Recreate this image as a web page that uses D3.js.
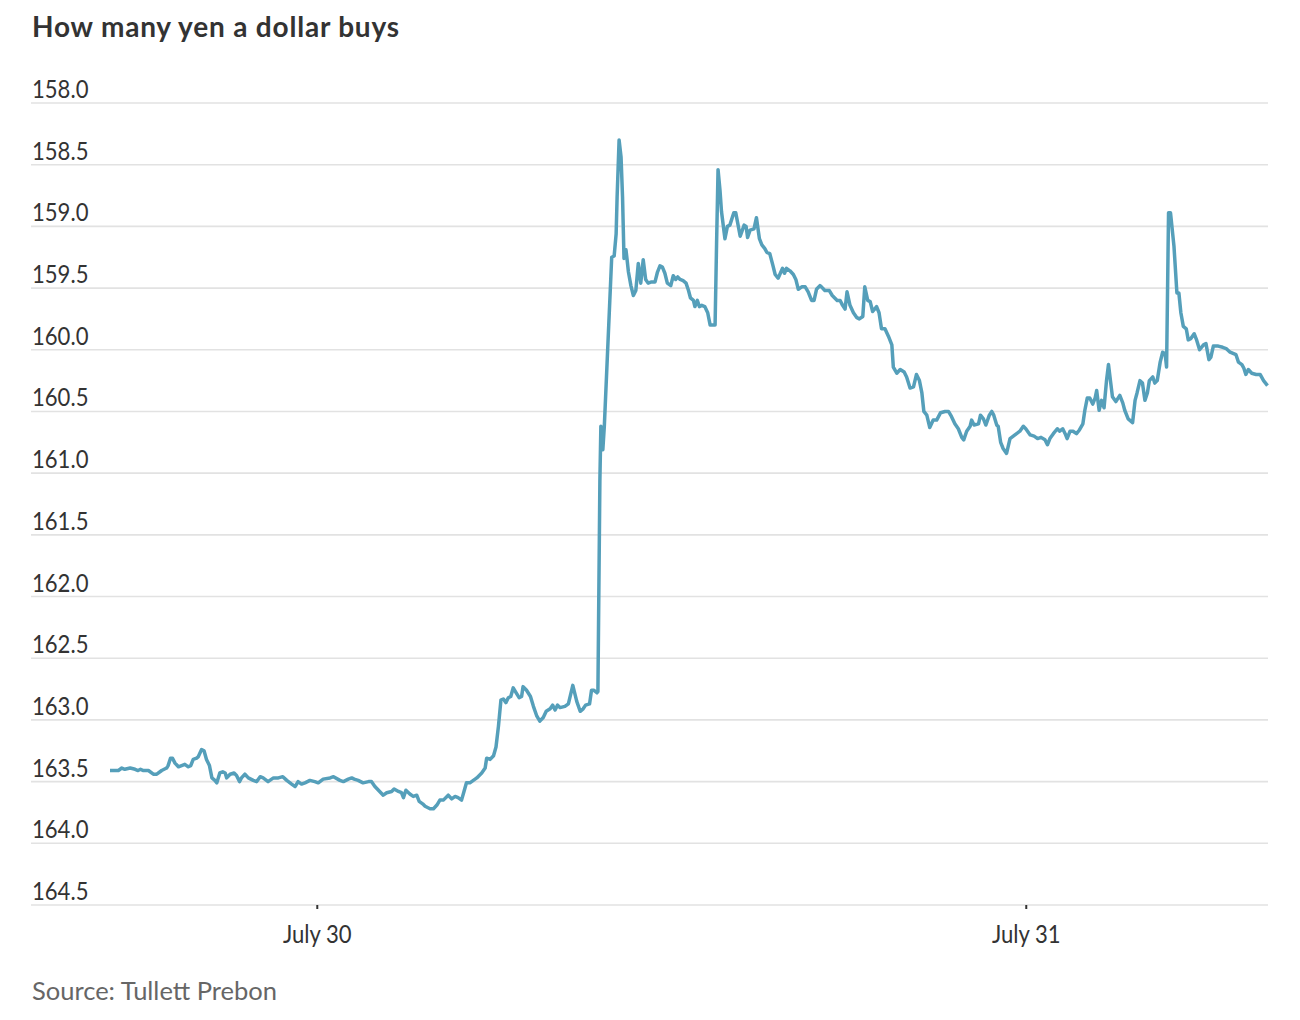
<!DOCTYPE html>
<html>
<head>
<meta charset="utf-8">
<script src="https://cdn.jsdelivr.net/npm/d3@7"></script>
<style>
  body { margin: 0; background: #fff; }
  .tick-label { font-family: Lato, sans-serif; font-size: 26px; fill: #333; }
</style>
</head>
<body>
<div id="chart"></div>
<script>
// how many yen one dollar buys, intraday, July 29-31
const times = [
  "29 17:00","29 17:17","29 17:24","29 17:30","29 17:41","29 17:51","29 17:57","29 18:02","29 18:08","29 18:18",
  "29 18:28","29 18:35","29 18:45","29 18:55","29 18:58","29 19:03","29 19:07","29 19:12","29 19:19","29 19:32",
  "29 19:39","29 19:44","29 19:49","29 19:56","29 19:59","29 20:06","29 20:11","29 20:16","29 20:22","29 20:27",
  "29 20:33","29 20:37","29 20:43","29 20:49","29 20:54","29 20:57","29 21:04","29 21:12","29 21:17","29 21:23",
  "29 21:27","29 21:34","29 21:41","29 21:51","29 21:58","29 22:05","29 22:11","29 22:21","29 22:32","29 22:42",
  "29 22:51","29 22:59","29 23:09","29 23:16","29 23:22","29 23:29","29 23:36","29 23:46","29 23:56","30 00:03",
  "30 00:13","30 00:27","30 00:34","30 00:47","30 00:54","30 01:04","30 01:11","30 01:16","30 01:24","30 01:34",
  "30 01:45","30 01:51","30 01:58","30 02:15","30 02:22","30 02:32","30 02:37","30 02:46","30 02:52","30 02:56",
  "30 03:01","30 03:09","30 03:16","30 03:23","30 03:28","30 03:35","30 03:40","30 03:50","30 03:57","30 04:04",
  "30 04:10","30 04:17","30 04:27","30 04:34","30 04:41","30 04:47","30 04:54","30 04:59","30 05:04","30 05:11",
  "30 05:18","30 05:25","30 05:35","30 05:42","30 05:45","30 05:52","30 05:59","30 06:04","30 06:09","30 06:14",
  "30 06:19","30 06:24","30 06:29","30 06:34","30 06:39","30 06:45","30 06:51","30 06:56","30 06:59","30 07:06",
  "30 07:14","30 07:20","30 07:27","30 07:33","30 07:40","30 07:46","30 07:54","30 07:59","30 08:04","30 08:09",
  "30 08:14","30 08:24","30 08:31","30 08:40","30 08:48","30 08:55","30 09:01","30 09:06","30 09:14","30 09:18",
  "30 09:23","30 09:29","30 09:31","30 09:35","30 09:37","30 09:41","30 09:44","30 09:59","30 10:04","30 10:08",
  "30 10:10","30 10:14","30 10:18","30 10:21","30 10:24","30 10:28","30 10:30","30 10:33","30 10:38","30 10:43",
  "30 10:48","30 10:53","30 10:58","30 11:03","30 11:08","30 11:13","30 11:20","30 11:27","30 11:32","30 11:37",
  "30 11:42","30 11:47","30 11:52","30 11:59","30 12:04","30 12:09","30 12:13","30 12:18","30 12:24","30 12:30",
  "30 12:35","30 12:39","30 12:45","30 12:48","30 12:53","30 12:57","30 13:02","30 13:08","30 13:14","30 13:19",
  "30 13:29","30 13:32","30 13:35","30 13:39","30 13:42","30 13:49","30 13:54","30 13:59","30 14:07","30 14:11",
  "30 14:20","30 14:28","30 14:32","30 14:35","30 14:40","30 14:48","30 14:53","30 14:59","30 15:04","30 15:10",
  "30 15:14","30 15:20","30 15:26","30 15:31","30 15:37","30 15:46","30 15:50","30 15:54","30 16:01","30 16:08",
  "30 16:13","30 16:18","30 16:25","30 16:32","30 16:38","30 16:45","30 16:50","30 16:55","30 17:02","30 17:05",
  "30 17:12","30 17:21","30 17:27","30 17:32","30 17:37","30 17:43","30 17:48","30 17:53","30 17:57","30 18:03",
  "30 18:10","30 18:17","30 18:22","30 18:29","30 18:33","30 18:39","30 18:44","30 18:49","30 18:57","30 19:02",
  "30 19:07","30 19:14","30 19:21","30 19:28","30 19:31","30 19:38","30 19:45","30 19:53","30 19:58","30 20:05",
  "30 20:12","30 20:18","30 20:24","30 20:29","30 20:33","30 20:39","30 20:45","30 20:52","30 20:59","30 21:07",
  "30 21:16","30 21:23","30 21:29","30 21:36","30 21:43","30 21:50","30 21:54","30 22:00","30 22:07","30 22:10",
  "30 22:15","30 22:24","30 22:28","30 22:34","30 22:39","30 22:46","30 22:51","30 22:55","30 23:01","30 23:04",
  "30 23:09","30 23:14","30 23:21","30 23:28","30 23:38","30 23:48","30 23:55","31 00:00","31 00:09","31 00:17",
  "31 00:24","31 00:31","31 00:39","31 00:44","31 00:49","31 00:56","31 01:04","31 01:09","31 01:15","31 01:20",
  "31 01:24","31 01:30","31 01:36","31 01:43","31 01:49","31 01:56","31 02:00","31 02:05","31 02:10","31 02:16",
  "31 02:21","31 02:24","31 02:29","31 02:34","31 02:39","31 02:44","31 02:48","31 02:52","31 02:56","31 03:03",
  "31 03:11","31 03:17","31 03:21","31 03:28","31 03:37","31 03:42","31 03:46","31 03:52","31 03:57","31 04:02",
  "31 04:07","31 04:11","31 04:18","31 04:22","31 04:27","31 04:33","31 04:38","31 04:43","31 04:46","31 04:50",
  "31 04:54","31 05:01","31 05:07","31 05:11","31 05:15","31 05:20","31 05:26","31 05:30","31 05:35","31 05:42",
  "31 05:47","31 05:53","31 06:01","31 06:06","31 06:12","31 06:16","31 06:21","31 06:31","31 06:40","31 06:47",
  "31 06:55","31 07:01","31 07:07","31 07:12","31 07:19","31 07:23","31 07:27","31 07:32","31 07:39","31 07:48",
  "31 07:56","31 08:03","31 08:11"
];

const yen = [
  163.41,163.41,163.39,163.40,163.39,163.40,163.41,163.40,163.41,163.41,
  163.44,163.44,163.41,163.39,163.37,163.31,163.31,163.35,163.38,163.36,
  163.38,163.37,163.32,163.31,163.30,163.24,163.25,163.32,163.37,163.47,
  163.49,163.51,163.43,163.42,163.43,163.47,163.44,163.43,163.45,163.50,
  163.47,163.44,163.47,163.49,163.50,163.46,163.47,163.50,163.47,163.47,
  163.46,163.49,163.52,163.54,163.50,163.52,163.51,163.49,163.50,163.51,
  163.48,163.47,163.46,163.49,163.50,163.48,163.47,163.48,163.49,163.51,
  163.50,163.50,163.54,163.61,163.59,163.58,163.56,163.58,163.59,163.63,
  163.57,163.60,163.62,163.61,163.66,163.68,163.70,163.72,163.72,163.69,
  163.65,163.65,163.61,163.64,163.62,163.63,163.65,163.58,163.51,163.51,
  163.49,163.47,163.43,163.39,163.31,163.32,163.29,163.22,163.05,162.84,
  162.83,162.86,162.82,162.81,162.74,162.78,162.82,162.81,162.73,162.76,
  162.81,162.89,162.97,163.01,162.98,162.93,162.91,162.88,162.92,162.88,
  162.90,162.89,162.87,162.72,162.85,162.93,162.91,162.88,162.87,162.76,
  162.76,162.78,162.77,161.06,160.62,160.81,160.62,159.25,159.24,159.06,
  158.76,158.30,158.44,158.76,159.26,159.19,159.26,159.37,159.48,159.56,
  159.52,159.30,159.46,159.27,159.43,159.46,159.45,159.45,159.37,159.32,
  159.33,159.38,159.46,159.48,159.40,159.43,159.41,159.43,159.44,159.46,
  159.52,159.58,159.60,159.65,159.60,159.65,159.64,159.65,159.70,159.80,
  159.80,159.14,158.54,158.71,158.88,159.10,159.00,158.99,158.89,158.89,
  159.08,158.99,159.00,159.09,159.03,159.02,158.93,159.10,159.15,159.18,
  159.21,159.22,159.31,159.39,159.42,159.34,159.38,159.34,159.36,159.39,
  159.43,159.51,159.49,159.49,159.53,159.60,159.60,159.51,159.48,159.49,
  159.52,159.52,159.56,159.58,159.60,159.60,159.64,159.67,159.53,159.64,
  159.70,159.74,159.75,159.73,159.49,159.60,159.61,159.69,159.65,159.70,
  159.83,159.83,159.89,159.96,160.14,160.19,160.16,160.18,160.22,160.31,
  160.30,160.20,160.25,160.35,160.50,160.53,160.63,160.57,160.57,160.51,
  160.50,160.50,160.54,160.60,160.64,160.71,160.73,160.66,160.62,160.57,
  160.61,160.60,160.53,160.56,160.61,160.53,160.50,160.53,160.61,160.62,
  160.75,160.80,160.84,160.72,160.69,160.66,160.62,160.64,160.69,160.70,
  160.72,160.71,160.73,160.77,160.72,160.68,160.64,160.66,160.64,160.68,
  160.72,160.66,160.66,160.68,160.65,160.60,160.49,160.39,160.39,160.44,
  160.39,160.33,160.49,160.41,160.47,160.25,160.12,160.25,160.38,160.42,
  160.37,160.43,160.49,160.56,160.59,160.41,160.35,160.25,160.27,160.41,
  160.35,160.25,160.22,160.27,160.25,160.10,160.02,160.03,160.14,158.89,
  158.89,159.16,159.54,159.54,159.70,159.81,159.83,159.92,159.91,159.87,
  159.92,160.00,159.96,159.95,160.08,160.06,159.97,159.97,159.98,159.99,
  160.02,160.03,160.04,160.10,160.12,160.15,160.20,160.16,160.19,160.20,
  160.20,160.25,160.29
];

const yTicks = [158.0,158.5,159.0,159.5,160.0,160.5,161.0,161.5,162.0,162.5,163.0,163.5,164.0,164.5];
const xTicks = ["30 00:00","31 00:00"];
const xTickLabels = {"30": "July 30", "31": "July 31"};
const timeStart = "29 17:00";
const timeEnd = "31 08:12";

const parseTime = s => d3.timeParse("%Y-%m-%d %H:%M")("2024-07-" + s);

let data = times.map((t,i) => ({date: parseTime(t), value: yen[i]}));

// the chart's labels use a narrow face, so squeeze Lato a bit
const squeeze = 0.85;

let viz = d3.select("#chart")
  .append("svg")
    .attr("width",1300)
    .attr("height",1020);

let x = d3.scaleTime()
  .domain([parseTime(timeStart), parseTime(timeEnd)])
  .range([110,1268]);

let y = d3.scaleLinear()
  .domain([158,164.5])
  .range([103,905]);

// title
viz.append("text")
  .attr("x",32)
  .attr("y",37)
  .attr("font-family","Lato, sans-serif")
  .attr("font-weight",700)
  .attr("font-size",28)
  .attr("letter-spacing",0.8)
  .attr("fill","#333")
  .text("How many yen a dollar buys");

// gridlines + labels sitting on top of them
let yAxis = viz.append("g").attr("class","y-axis");
yAxis.selectAll("line").data(yTicks).enter()
  .append("line")
    .attr("x1",31)
    .attr("x2",1268)
    .attr("y1",d => y(d))
    .attr("y2",d => y(d))
    .attr("stroke","#e2e2e2")
    .attr("stroke-width",1.6);
yAxis.selectAll("text").data(yTicks).enter()
  .append("text")
    .attr("class","tick-label")
    .attr("transform",d => "translate(32," + (y(d) - 5) + ") scale(" + squeeze + ",1)")
    .text(d3.format(".1f"));

// x axis ticks
let xAxis = viz.append("g")
  .attr("transform","translate(0,905)")
  .call(d3.axisBottom(x)
    .tickValues(xTicks.map(parseTime))
    .tickSize(4)
    .tickFormat(d => xTickLabels[d3.timeFormat("%d")(d)]));
xAxis.select(".domain").remove();
xAxis.attr("font-family",null).attr("font-size",null);
xAxis.selectAll(".tick line").attr("stroke","#333").attr("stroke-width",2);
xAxis.selectAll(".tick text")
  .attr("class","tick-label")
  .attr("dy",0)
  .attr("y",38)
  .attr("fill",null)
  .attr("transform","scale(" + squeeze + ",1)");

// the line
let line = d3.line()
  .x(d => x(d.date))
  .y(d => y(d.value));

viz.append("path")
  .datum(data)
  .attr("d",line)
  .attr("fill","none")
  .attr("stroke","#559fba")
  .attr("stroke-width",3.5)
  .attr("stroke-linejoin","round");

// source note
viz.append("text")
  .attr("x",32)
  .attr("y",1000)
  .attr("font-family","Lato, sans-serif")
  .attr("font-size",25.5)
  .attr("fill","#666")
  .text("Source: Tullett Prebon");
</script>
</body>
</html>
